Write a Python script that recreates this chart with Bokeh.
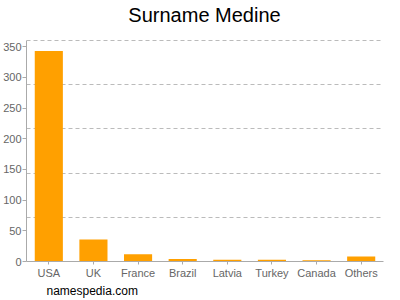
from bokeh.plotting import figure
from bokeh.models import FixedTicker, Range1d, Title, Label
from bokeh.embed import file_html
from bokeh.resources import INLINE

countries = ["USA", "UK", "France", "Brazil", "Latvia", "Turkey", "Canada", "Others"]
counts = [343, 36, 12, 4, 3, 3, 2, 8]
y_ticks = [0, 50, 100, 150, 200, 250, 300, 350]
grid_ticks = [72, 144, 216, 288, 360]
y_max = 360

FONT = "Liberation Sans"

# frame runs from the top of the canvas to y=261; value 360 sits at y=40
p = figure(x_range=countries, width=400, height=300, output_backend="svg",
           toolbar_location=None, min_border_left=25, min_border_right=17,
           min_border_top=0, min_border_bottom=39)
p.y_range = Range1d(0, y_max * 261 / 221)

p.vbar(x=countries, top=counts, width=0.63, color="#ffa000", line_color=None)

p.title.text = ""

title = Label(x=178, y=247, x_units="screen", y_units="screen", text="Surname Medine",
              text_font=FONT, text_font_size="20px", text_color="#000000",
              text_align="center", text_baseline="alphabetic")
p.add_layout(title)

foot = Title(text="namespedia.com", align="left", text_font=FONT,
             text_font_size="12px", text_font_style="normal",
             text_color="#000000", offset=20, standoff=0)
p.add_layout(foot, "below")

p.outline_line_color = None
p.xgrid.grid_line_color = None
p.ygrid.ticker = FixedTicker(ticks=grid_ticks)
p.ygrid.grid_line_color = "#bbbbbb"
p.ygrid.grid_line_dash = "4 3"

for ax in (p.xaxis[0], p.yaxis[0]):
    ax.axis_line_color = "#aaaaaa"
    ax.major_tick_line_color = "#aaaaaa"
    ax.minor_tick_line_color = None
    ax.major_label_text_font = FONT
    ax.major_label_text_font_size = "11px"
    ax.major_label_text_color = "#666666"

p.yaxis.ticker = FixedTicker(ticks=y_ticks)
p.yaxis.bounds = (0, y_max)
p.yaxis.major_tick_in = 0
p.yaxis.major_tick_out = 4
p.yaxis.major_label_standoff = 1
p.xaxis.major_tick_in = 0
p.xaxis.major_tick_out = 3
p.xaxis.major_label_standoff = 2

open("out.html", "w").write(file_html(p, INLINE))
